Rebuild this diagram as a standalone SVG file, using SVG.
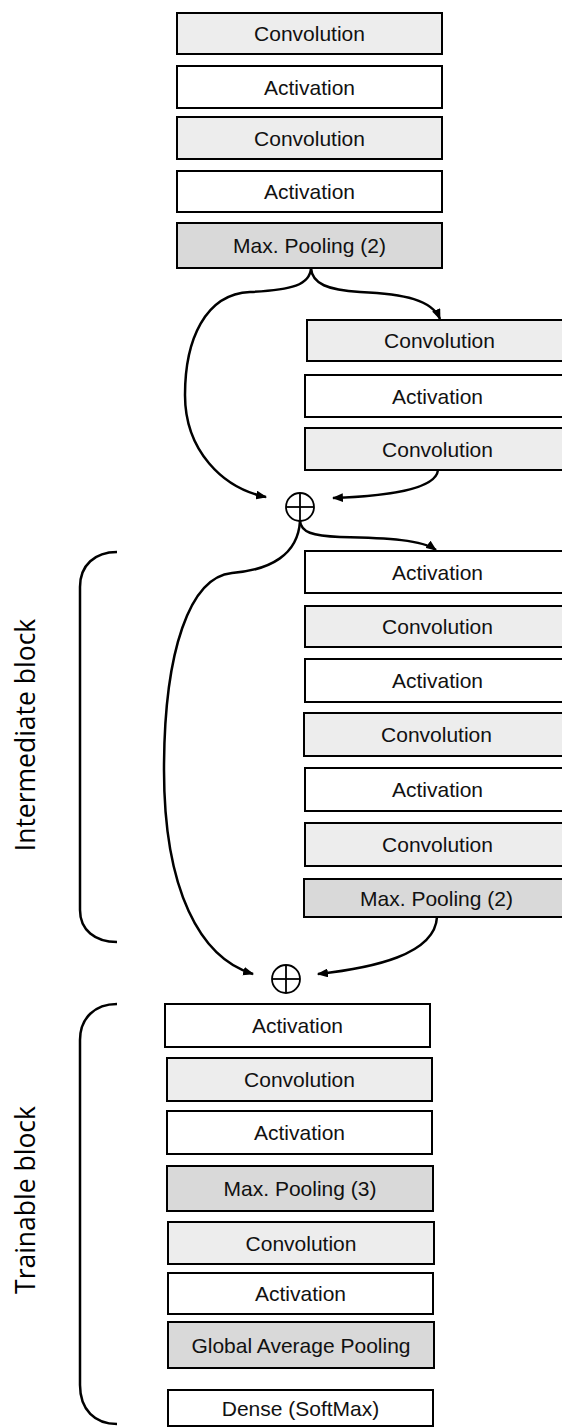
<svg xmlns="http://www.w3.org/2000/svg" width="562" height="1428" viewBox="0 0 562 1428">
<style>
.box rect{stroke:#000;stroke-width:2}
.conv rect{fill:#ededed}
.act rect{fill:#ffffff}
.pool rect{fill:#d9d9d9}
.box text{font-family:"Liberation Sans",Arial,sans-serif;font-size:21px;fill:#111;text-anchor:middle}
.wire{fill:none;stroke:#000;stroke-width:2.5}
.brk{fill:none;stroke:#000;stroke-width:2.5}
.side{font-family:"Open Sans","Noto Sans",sans-serif;font-size:26.5px;fill:#000;text-anchor:middle}
.sum circle{fill:#fff;stroke:#000;stroke-width:1.8}
.sum line{stroke:#000;stroke-width:1.8}
</style>
<defs>
<marker id="ah" viewBox="0 0 10 8" refX="9" refY="4" markerWidth="11" markerHeight="9" markerUnits="userSpaceOnUse" orient="auto">
<path d="M0,0 L10,4 L0,8 z" fill="#000"/>
</marker>
</defs>

<!-- top column -->
<g id="n1" class="box conv"><rect x="177" y="13" width="265" height="41"/><text x="309.5" y="41">Convolution</text></g>
<g id="n2" class="box act"><rect x="177" y="66" width="265" height="42"/><text x="309.5" y="94.5">Activation</text></g>
<g id="n3" class="box conv"><rect x="177" y="117" width="265" height="42"/><text x="309.5" y="145.5">Convolution</text></g>
<g id="n4" class="box act"><rect x="177" y="171" width="265" height="41"/><text x="309.5" y="199">Activation</text></g>
<g id="n5" class="box pool"><rect x="177" y="223" width="265" height="45"/><text x="309.5" y="253">Max. Pooling (2)</text></g>

<!-- residual branch 1 -->
<g id="n6" class="box conv"><rect x="307" y="320" width="265" height="41"/><text x="439.5" y="348">Convolution</text></g>
<g id="n7" class="box act"><rect x="305" y="375" width="265" height="42"/><text x="437.5" y="403.5">Activation</text></g>
<g id="n8" class="box conv"><rect x="305" y="428" width="265" height="42"/><text x="437.5" y="456.5">Convolution</text></g>

<g id="sum1" class="sum"><circle cx="300" cy="507" r="14"/><line x1="286" y1="507" x2="314" y2="507"/><line x1="300" y1="493" x2="300" y2="521"/></g>

<!-- residual branch 2 -->
<g id="n9" class="box act"><rect x="305" y="551" width="265" height="42"/><text x="437.5" y="579.5">Activation</text></g>
<g id="n10" class="box conv"><rect x="305" y="606" width="265" height="41"/><text x="437.5" y="634">Convolution</text></g>
<g id="n11" class="box act"><rect x="305" y="659" width="265" height="43"/><text x="437.5" y="688">Activation</text></g>
<g id="n12" class="box conv"><rect x="304" y="713" width="265" height="43"/><text x="436.5" y="742">Convolution</text></g>
<g id="n13" class="box act"><rect x="305" y="768" width="265" height="43"/><text x="437.5" y="797">Activation</text></g>
<g id="n14" class="box conv"><rect x="305" y="823" width="265" height="43"/><text x="437.5" y="852">Convolution</text></g>
<g id="n15" class="box pool"><rect x="304" y="879" width="265" height="38"/><text x="436.5" y="905.5">Max. Pooling (2)</text></g>

<g id="sum2" class="sum"><circle cx="286" cy="979" r="14"/><line x1="272" y1="979" x2="300" y2="979"/><line x1="286" y1="965" x2="286" y2="993"/></g>

<!-- trainable block -->
<g id="n16" class="box act"><rect x="165" y="1004" width="265" height="43"/><text x="297.5" y="1033">Activation</text></g>
<g id="n17" class="box conv"><rect x="167" y="1058" width="265" height="43"/><text x="299.5" y="1087">Convolution</text></g>
<g id="n18" class="box act"><rect x="167" y="1111" width="265" height="43"/><text x="299.5" y="1140">Activation</text></g>
<g id="n19" class="box pool"><rect x="167" y="1166" width="266" height="45"/><text x="300" y="1196">Max. Pooling (3)</text></g>
<g id="n20" class="box conv"><rect x="168" y="1222" width="266" height="42"/><text x="301" y="1250.5">Convolution</text></g>
<g id="n21" class="box act"><rect x="168" y="1273" width="265" height="41"/><text x="300.5" y="1301">Activation</text></g>
<g id="n22" class="box pool"><rect x="168" y="1322" width="266" height="46"/><text x="301" y="1352.5">Global Average Pooling</text></g>
<g id="n23" class="box act"><rect x="168" y="1390" width="265" height="36"/><text x="300.5" y="1415.5">Dense (SoftMax)</text></g>

<!-- connectors -->
<g id="connectors">
<path class="wire" d="M311,268 C310,285 292,290 250,292 C205,294 185,340 185,395 C185,450 222,488 266,497" marker-end="url(#ah)"/>
<path class="wire" d="M311,268 C312,284 328,290 360,292 C405,294 432,300 440,319" marker-end="url(#ah)"/>
<path class="wire" d="M438,470 C436,490 385,496 333,498" marker-end="url(#ah)"/>
<path class="wire" d="M300,521 C298,555 270,570 232,573 C190,577 164,650 164,770 C164,890 200,958 253,974" marker-end="url(#ah)"/>
<path class="wire" d="M300,521 C301,532 312,536 340,537 C390,538 422,540 436,550" marker-end="url(#ah)"/>
<path class="wire" d="M437,917 C435,955 372,968 318,974" marker-end="url(#ah)"/>
</g>

<!-- block brackets and labels -->
<g id="intermediate-block">
<path class="brk" d="M117,552 C95,552 80,565 80,587 L80,910 C80,930 95,942 117,942"/>
<text class="side" transform="translate(35,735) rotate(-90)">Intermediate block</text>
</g>
<g id="trainable-block">
<path class="brk" d="M117,1004 C95,1004 80,1018 80,1040 L80,1385 C80,1410 95,1424 117,1424"/>
<text class="side" transform="translate(35,1200) rotate(-90)">Trainable block</text>
</g>
</svg>
